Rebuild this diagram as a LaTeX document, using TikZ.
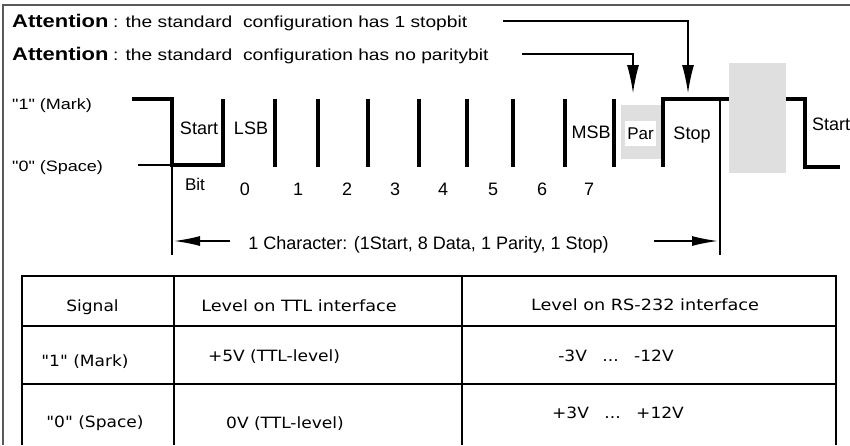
\documentclass[tikz,border=0pt]{standalone}
\usepackage{fontspec}
\setmainfont{Liberation Sans}
\newfontfamily\widefont{Liberation Sans}[FakeStretch=1.2]
\newfontfamily\tabfont{DejaVu Sans}[FakeStretch=1.1]
\newfontfamily\tabheadfont{DejaVu Sans}[FakeStretch=1.14]
\usepackage{tikz}
\usetikzlibrary{arrows.meta}

\tikzset{
  sig/.style={line width=3.5pt},
  thinline/.style={line width=1.3pt},
  tabline/.style={line width=1.6pt},
  greybox/.style={fill=gray!25},
  note/.style={anchor=base west,inner sep=0pt,font=\widefont\fontsize{16}{16}\selectfont},
  lbl/.style={anchor=base,inner sep=0pt,font=\fontsize{18}{18}\selectfont},
  tabtext/.style={anchor=base,inner sep=0pt,font=\tabfont\fontsize{15.5}{15.5}\selectfont},
  pointer/.style={line width=1.3pt,-{Latex[length=28pt,width=12pt]}},
  dimarrow/.style={line width=1.5pt,-{Latex[length=26pt,width=10pt]}},
}

\begin{document}
\begin{tikzpicture}[x=1pt,y=-1pt]
\useasboundingbox (0,0) rectangle (850,445);
% frame
\draw[line width=1.5pt,black!65] (3,445) -- (3,5) -- (850,5);

% notes on top
\node[note,font=\widefont\bfseries\fontsize{18.3}{18}\selectfont] (att1) at (12,27) {Attention};
\node[note] (stopnote) at (113,27) {: the standard\ \ configuration has 1 stopbit};
\node[note,font=\widefont\bfseries\fontsize{18.3}{18}\selectfont] (att2) at (12,60) {Attention};
\node[note] (parnote) at (113,60) {: the standard\ \ configuration has no paritybit};

% levels
\node[note,font=\widefont\fontsize{15}{15}\selectfont] (mark) at (12,109) {"1" (Mark)};
\node[note,font=\widefont\fontsize{15}{15}\selectfont] (space) at (12,171) {"0" (Space)};

% start bit
\draw[sig] (132,99) -- (172,99) -- (172,165) -- (223,165) -- (223,99);
\draw[thinline] (138,165) -- (172,165) -- (172,255);
\node[lbl] (startlbl) at (199,134) {Start};
\node[lbl,font=\fontsize{17}{17}\selectfont] (bitlbl) at (195,190) {Bit};
\node[lbl] (lsb) at (251,134) {LSB};

% data bits
\foreach \x in {275,318,368,419,467,513,565,614}
  \draw[sig] (\x,99) -- (\x,167);
\foreach \x/\d in {245/0,298/1,347/2,395/3,443/4,493/5,542/6,589/7}
  \node[lbl] (d\d) at (\x,195) {\d};
\node[lbl] (msb) at (591,138) {MSB};

% parity
\fill[greybox] (621,105) rectangle (661,159);
\node[fill=white,inner sep=0pt,minimum width=31pt,minimum height=25pt,font=\fontsize{17}{17}\selectfont] (par) at (640.5,133.5) {Par};

% stop bit and next start
\draw[sig] (663,167) -- (663,99) -- (805,99) -- (805,167) -- (840,167);
\draw[thinline] (720,99) -- (720,255);
\fill[greybox] (729,63) rectangle (786,173);
\node[lbl] (stoplbl) at (692,139) {Stop};
\node[lbl,anchor=base west] (nextstart) at (812,130) {Start};

% pointers from the notes
\coordinate (stopsrc) at (503,21);
\coordinate (stoptip) at (688,93);
\coordinate (parsrc) at (522,54);
\coordinate (partip) at (633,93);
\draw[pointer] (stopsrc) -| (stoptip);
\draw[pointer] (parsrc) -| (partip);

% one character
\node[lbl] (charlbl) at (428.5,249) {1 Character: (1Start, 8 Data, 1 Parity, 1 Stop)};
\coordinate (charL) at (174,241);
\coordinate (charR) at (718,241);
\draw[dimarrow] (230,241) -- (charL);
\draw[dimarrow] (654,241) -- (charR);

% table
\draw[tabline] (22,445) -- (22,276) -- (836,276) -- (836,445);
\draw[tabline] (22,326) -- (836,326);
\draw[tabline] (22,384) -- (836,384);
\draw[tabline] (174,276) -- (174,445);
\draw[tabline] (462,276) -- (462,445);

\node[tabtext] (hsig) at (92.5,311) {Signal};
\node[tabtext,font=\tabheadfont\fontsize{15.5}{15.5}\selectfont] (httl) at (299,311) {Level on TTL interface};
\node[tabtext,font=\tabheadfont\fontsize{15.5}{15.5}\selectfont] (hrs) at (645,310) {Level on RS-232 interface};
\node[tabtext] (rmark) at (85,366) {"1" (Mark)};
\node[tabtext] (ttlmark) at (274,361) {+5V (TTL-level)};
\node[tabtext] (rsmark) at (616,361) {-3V\quad...\quad-12V};
\node[tabtext] (rspace) at (95,427) {"0" (Space)};
\node[tabtext] (ttlspace) at (285,428) {0V (TTL-level)};
\node[tabtext] (rsspace) at (618,418) {+3V\quad...\quad+12V};
\end{tikzpicture}
\end{document}
